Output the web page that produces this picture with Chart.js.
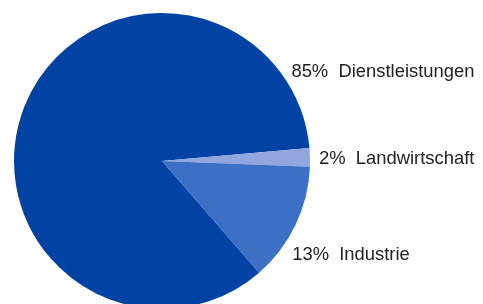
<!DOCTYPE html>
<html>
<head>
<meta charset="utf-8">
<script src="https://cdn.jsdelivr.net/npm/chart.js@4"></script>
<style>
  html, body { margin: 0; padding: 0; background: #fff; overflow: hidden; }
  .wrap { width: 483px; height: 320px; position: relative; }
</style>
</head>
<body>
<div class="wrap"><canvas id="pie"></canvas></div>
<script>
// Anteile der Sektoren (%)
const categories = ['Dienstleistungen', 'Landwirtschaft', 'Industrie'];
const shares = [85, 2, 13];
const colors = ['#0043a5', '#91a6de', '#3b70c4'];

// where the outside texts sit: angle (deg, clockwise from 3 o'clock) and gap from the rim
const labelAngles = [-37.5, -1.2, 38.9];
const labelGaps = [12, 9, 15];

const outsideLabels = {
    id: 'outsideLabels',
    afterDatasetsDraw(chart) {
        const ctx = chart.ctx;
        const arc = chart.getDatasetMeta(0).data[0];
        const cx = arc.x, cy = arc.y, r = arc.outerRadius;
        ctx.save();
        ctx.font = '18.4px "Liberation Sans", Arial, sans-serif';
        ctx.fillStyle = '#222';
        ctx.textAlign = 'left';
        ctx.textBaseline = 'alphabetic';
        categories.forEach((name, i) => {
            const a = labelAngles[i] * Math.PI / 180;
            const y = cy + r * Math.sin(a);
            const x = cx + r * Math.cos(a) + labelGaps[i];
            ctx.fillText(shares[i] + '%  ' + name, x, y + 6.5);
        });
        ctx.restore();
    }
};

const ctx = document.getElementById('pie').getContext('2d');
const chart = new Chart(ctx, {
    type: 'pie',
    data: {
        labels: categories,
        datasets: [{
            data: shares,
            backgroundColor: colors,
            borderWidth: 0
        }]
    },
    options: {
        responsive: true,
        maintainAspectRatio: false,
        animation: false,
        rotation: 139,
        layout: { padding: { left: 14, top: 13, right: 173, bottom: 11 } },
        plugins: { legend: { display: false }, tooltip: { enabled: false } }
    },
    plugins: [outsideLabels]
});
</script>
</body>
</html>
